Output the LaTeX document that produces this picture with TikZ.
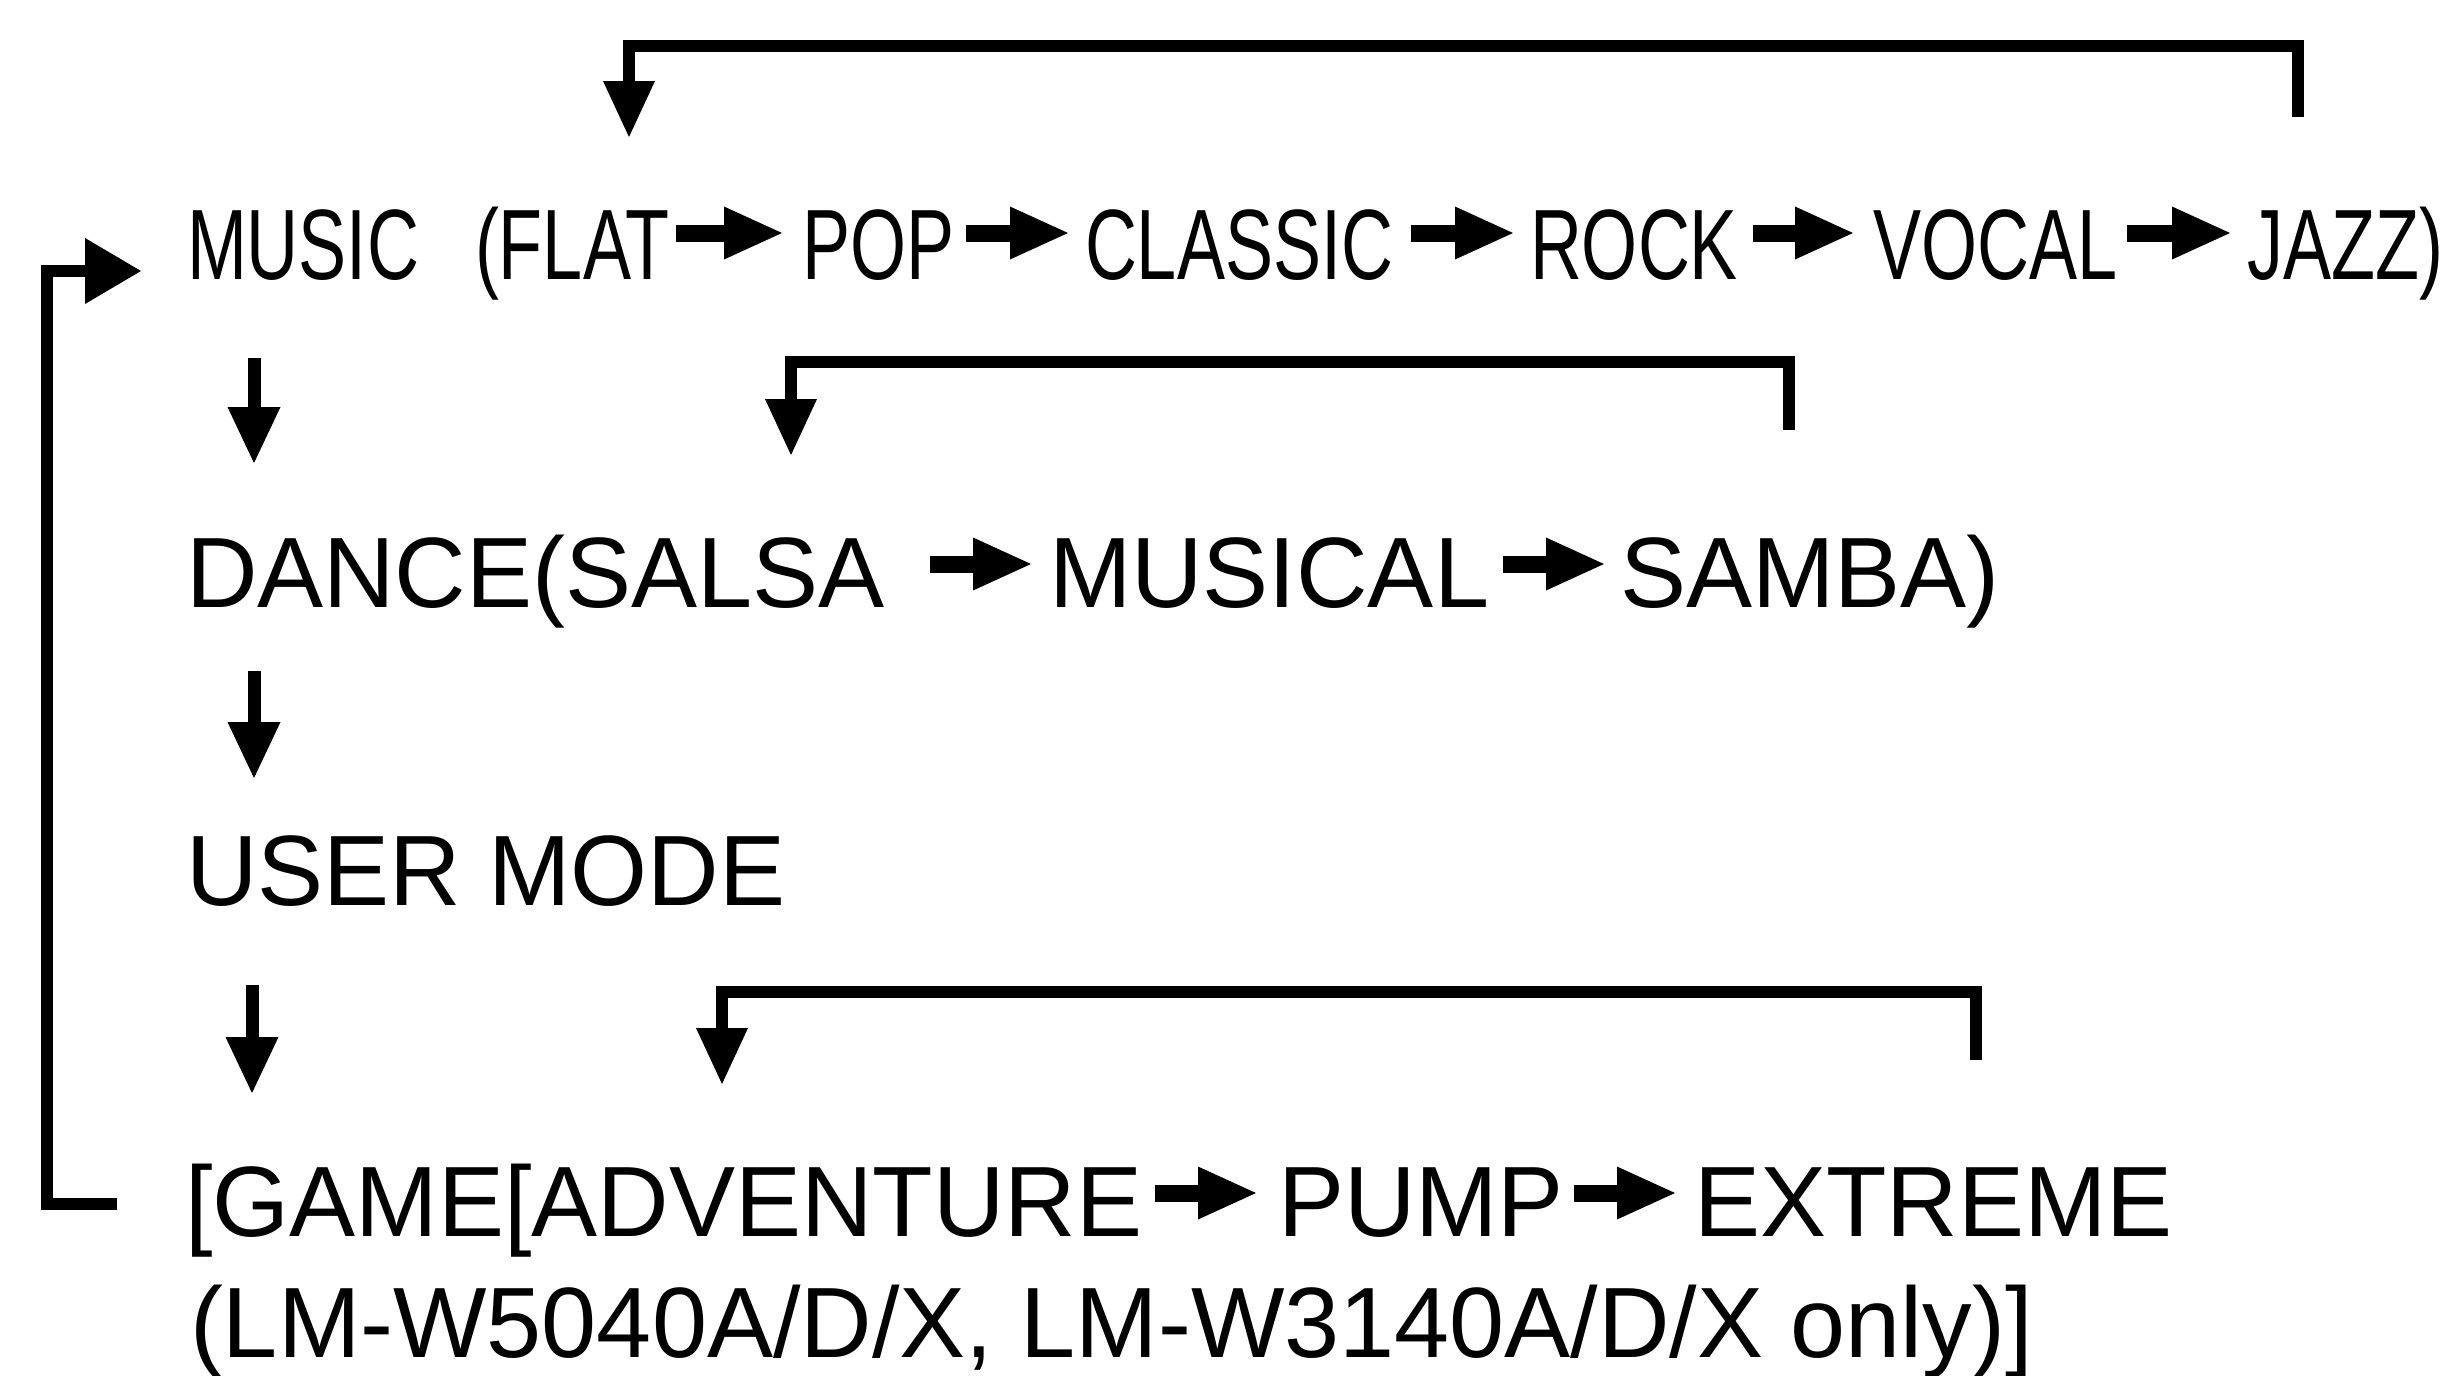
\documentclass[tikz,border=0pt]{standalone}
\usepackage{fontspec}
\setmainfont{Liberation Sans}[FakeStretch=0.99]
\newfontfamily\condfont{Liberation Sans}[FakeStretch=0.72]
\usetikzlibrary{arrows.meta,calc}
\begin{document}
\begin{tikzpicture}[x=0.5pt,y=-0.5pt,
  word/.style={anchor=base west, inner sep=0pt, outer sep=0pt,
    font=\fontsize{50pt}{60pt}\selectfont, text height=50pt, text depth=7pt},
  condword/.style={word, font=\condfont\fontsize{50pt}{60pt}\selectfont, text depth=4pt},
  inarrow/.style={line width=8.5pt, -{Triangle[length=29pt,width=26.5pt,line width=0pt]}},
  downarrow/.style={line width=6.5pt, -{Triangle[length=28pt,width=26.5pt,line width=0pt]}},
  looparrow/.style={line width=6pt, -{Triangle[length=28pt,width=26pt,line width=0pt]}},
  backarrow/.style={line width=6pt, -{Triangle[length=28pt,width=33pt,line width=0pt]}},
]
\useasboundingbox (0,0) rectangle (2454,1376);

% line 1
\node[condword] (music)   at (187,279)  {MUSIC};
\node[condword] (flat)    at (475,279)  {(FLAT};
\node[condword] (pop)     at (802,279)  {POP};
\node[condword] (classic) at (1085,279) {CLASSIC};
\node[condword] (rock)    at (1530,279) {ROCK};
\node[condword] (vocal)   at (1873,279) {VOCAL};
\node[condword] (jazz)    at (2247,279) {JAZZ)};

% line 2
\node[word] (dance)   at (186,607)  {DANCE(SALSA};
\node[word] (musical) at (1049,607) {MUSICAL};
\node[word] (samba)   at (1620,607) {SAMBA)};

% line 3
\node[word] (user) at (186,905) {USER MODE};

% line 4
\node[word] (game)    at (185,1236)  {[GAME[ADVENTURE};
\node[word] (pump)    at (1278,1236) {PUMP};
\node[word] (extreme) at (1694,1236) {EXTREME};

% line 5
\node[word] (models) at (190,1357) {(LM-W5040A/D/X, LM-W3140A/D/X only)]};

% inline arrows, line 1
\draw[inarrow, shorten <=3pt, shorten >=10pt]  (flat.east)    -- (pop.west);
\draw[inarrow, shorten <=6pt, shorten >=8.5pt] (pop.east)     -- (classic.west);
\draw[inarrow, shorten <=9pt, shorten >=8.5pt] (classic.east) -- (rock.west);
\draw[inarrow, shorten <=7.5pt, shorten >=10pt] (rock.east)   -- (vocal.west);
\draw[inarrow, shorten <=5pt, shorten >=8.5pt] (vocal.east)   -- (jazz.west);

% inline arrows, line 2
\draw[inarrow, shorten <=22.5pt, shorten >=9pt] (dance.east)   -- (musical.west);
\draw[inarrow, shorten <=7pt, shorten >=8pt]    (musical.east) -- (samba.west);

% inline arrows, line 4
\draw[inarrow, shorten <=6.5pt, shorten >=11pt] (game.east) -- (pump.west);
\draw[inarrow, shorten <=5pt, shorten >=9.5pt]  (pump.east) -- (extreme.west);

% down arrows
\draw[downarrow] ([shift={(33.5pt,-35.5pt)}]music.south west) -- ([shift={(34pt,22pt)}]dance.north west);
\draw[downarrow] ([shift={(34pt,-25pt)}]dance.south west) -- ([shift={(34pt,13.5pt)}]user.north west);
\draw[downarrow] ([shift={(33pt,-33pt)}]user.south west) -- ([shift={(33.5pt,21.5pt)}]game.north west);

% return loops
\draw[looparrow] ([shift={(25.5pt,31pt)}]jazz.north west) -- ++(0,-71)
  -| ([shift={(77pt,21pt)}]flat.north west);
\draw[looparrow] ([shift={(84.5pt,38.5pt)}]samba.north west) -- ++(0,-68)
  -| ([shift={(302.5pt,26pt)}]dance.north west);
\draw[looparrow] ([shift={(141pt,38pt)}]extreme.north west) -- ++(0,-68)
  -| ([shift={(268.5pt,26pt)}]game.north west);

% big loop back to MUSIC
\draw[backarrow] ([shift={(-34pt,-5.5pt)}]game.west) -- ++(-70,0)
  |- ([shift={(-23pt,-19pt)}]music.west);
\end{tikzpicture}
\end{document}
